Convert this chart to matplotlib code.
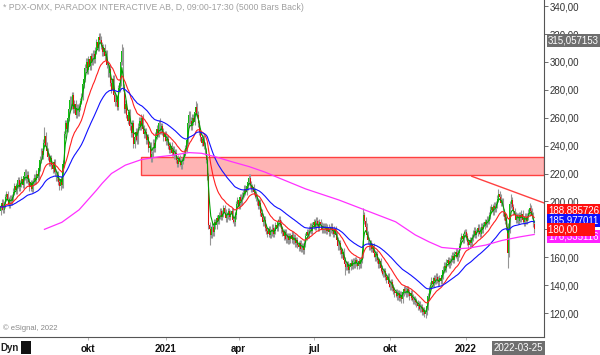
import numpy as np
import pandas as pd
import matplotlib
matplotlib.use("Agg")
import matplotlib.pyplot as plt
from matplotlib.patches import Rectangle
from matplotlib.transforms import blended_transform_factory

plt.rcParams["font.family"] = ["Liberation Sans", "DejaVu Sans"]

# ---------------- data ----------------
closes = [
    196, 199, 194, 198, 203, 205, 201, 198, 202, 200,
    203, 207, 211, 208, 212, 215, 210, 213, 216, 212,
    218, 221, 216, 219, 214, 210, 213, 209, 214, 217,
    215, 220, 218, 224, 230, 236, 233, 242, 247, 240,
    236, 232, 228, 231, 226, 223, 228, 221, 217, 219,
    214, 211, 216, 212, 227, 248, 256, 252, 260, 266,
    273, 269, 276, 266, 270, 262, 267, 264, 268, 272,
    275, 284, 288, 296, 300, 294, 302, 297, 304, 300,
    306, 302, 308, 314, 310, 318, 316, 312, 307, 310,
    304, 306, 298, 292, 295, 285, 280, 288, 276, 271,
    274, 268, 281, 285, 300, 308, 282, 266, 270, 262,
    258, 264, 254, 249, 256, 241, 246, 250, 244, 254,
    258, 254, 260, 252, 248, 250, 244, 246, 238, 240,
    231, 234, 242, 238, 247, 252, 249, 256, 251, 254,
    250, 246, 248, 243, 245, 240, 237, 240, 235, 237,
    233, 235, 230, 227, 231, 228, 226, 229, 232, 235,
    238, 244, 256, 262, 258, 254, 260, 257, 264, 268,
    262, 256, 250, 246, 242, 245, 240, 236, 230, 218,
    183, 180, 176, 182, 178, 185, 183, 188, 186, 190,
    193, 189, 191, 195, 192, 188, 190, 193, 189, 191,
    193, 187, 185, 190, 198, 201, 197, 203, 200, 204,
    206, 209, 207, 211, 214, 217, 212, 209, 210, 207,
    205, 203, 200, 197, 199, 192, 189, 185, 187, 181,
    179, 177, 180, 176, 178, 181, 177, 179, 183, 181,
    185, 187, 184, 180, 178, 175, 178, 173, 175, 172,
    175, 173, 176, 172, 174, 170, 172, 169, 167, 170,
    166, 168, 165, 170, 175, 178, 176, 180, 182, 179,
    183, 185, 182, 186, 184, 181, 185, 183, 180, 182,
    180, 182, 179, 181, 178, 180, 182, 179, 177, 180,
    176, 172, 168, 170, 165, 162, 164, 158, 155, 153,
    155, 151, 153, 156, 154, 157, 155, 158, 156, 154,
    157, 155, 158, 162, 190, 186, 182, 176, 172, 168,
    170, 166, 168, 163, 160, 162, 158, 155, 157, 152,
    150, 148, 150, 146, 144, 146, 141, 139, 142, 138,
    136, 134, 135, 132, 134, 131, 133, 130, 135, 137,
    136, 134, 137, 135, 132, 134, 131, 129, 130, 128,
    127, 125, 126, 123, 124, 121, 122, 119, 121, 125,
    132, 137, 140, 143, 141, 145, 143, 146, 144, 142,
    145, 143, 147, 151, 154, 152, 156, 158, 155, 157,
    159, 161, 158, 162, 164, 160, 163, 168, 172, 175,
    173, 177, 178, 175, 171, 169, 172, 170, 174, 177,
    179, 176, 178, 181, 179, 177, 182, 180, 183, 185,
    184, 187, 186, 190, 194, 196, 193, 197, 195, 198,
    202, 205, 203, 199, 200, 192, 189, 186, 182, 163,
    180, 198, 201, 196, 193, 190, 187, 189, 186, 190,
    188, 191, 187, 185, 189, 186, 189, 192, 195, 193,
    190, 184, 180,
]
first_open = 193
last_date = "2022-03-25"
typical_wick = 2.5
high_overrides = {"2020-08-10": 253, "2020-10-14": 321, "2020-11-11": 313,
                  "2020-12-28": 260, "2021-02-09": 272, "2021-04-14": 220,
                  "2021-08-31": 195, "2022-02-10": 209, "2022-02-25": 205,
                  "2022-03-21": 199}
low_overrides = {"2021-02-25": 169, "2021-06-18": 162, "2021-08-09": 147,
                 "2021-11-12": 117, "2022-02-22": 152}

ema_fast_span = 4
ema_mid_span = 20
ema_slow_span = 50

ma_long_dates = ["2020-08-10", "2020-08-31", "2020-09-21", "2020-10-12", "2020-10-19",
                 "2020-10-29", "2020-11-16", "2020-12-04", "2020-12-25", "2021-01-11",
                 "2021-02-01", "2021-02-16", "2021-03-04", "2021-03-24", "2021-04-14",
                 "2021-05-04", "2021-05-18", "2021-06-22", "2021-08-02", "2021-09-01",
                 "2021-10-08", "2021-11-02", "2021-11-18", "2021-12-03", "2021-12-22",
                 "2022-01-06", "2022-01-26", "2022-02-15", "2022-03-08", "2022-03-25"]
ma_long_values = [180, 185, 194, 208, 213,
                  220, 226, 230, 232, 233,
                  235, 234.5, 232, 228.5, 225,
                  221, 217.5, 209, 201, 194,
                  185.4, 176, 171, 167, 166,
                  166.6, 168.7, 172, 174.5, 176.3]

zone_start = "2020-12-04"
zone_low, zone_high = 218.9, 231.8
trend_dates = ["2022-01-10", "2022-03-25"]
trend_values = [218.0, 201.5]

x_tick_dates = ["2020-10-01", "2021-01-04", "2021-04-01", "2021-07-01", "2021-10-01", "2022-01-03"]
x_tick_labels = ["okt", "2021", "apr", "jul", "okt", "2022"]
y_ticks = list(range(120, 341, 20))

title = "* PDX-OMX, PARADOX INTERACTIVE AB, D, 09:00-17:30 (5000 Bars Back)"
high_marker_value = 315.057153
last_values = {"fast": 188.885726, "slow": 185.977011, "close": 180.00, "long": 176.335116}

# ---------------- build ----------------
c = np.array(closes, dtype=float)
n = len(c)
dates = pd.bdate_range(end=last_date, periods=n)


def idx(d):
    return int(dates.get_indexer([pd.Timestamp(d)], method="nearest")[0])


o = np.r_[first_open, c[:-1]]
hi = np.maximum(o, c) + typical_wick
lo = np.minimum(o, c) - typical_wick
for d, v in high_overrides.items():
    hi[idx(d)] = v
for d, v in low_overrides.items():
    lo[idx(d)] = v

s = pd.Series(c)
ema_fast = s.ewm(span=ema_fast_span, adjust=False).mean()
ema_mid = s.ewm(span=ema_mid_span, adjust=False).mean()
ema_slow = s.ewm(span=ema_slow_span, adjust=False).mean()

fig = plt.figure(figsize=(6.0, 3.55), dpi=100)
ax = fig.add_axes([0, 18 / 355, 544 / 600, 337 / 355])

x = np.arange(n)
ax.vlines(x, lo, hi, color="#959595", lw=0.8, zorder=2)
up = c >= o
ax.bar(x[up], (c - o)[up], bottom=o[up], width=0.8, color="#10c010",
       edgecolor="none", zorder=3)
ax.bar(x[~up], (o - c)[~up], bottom=c[~up], width=0.8, color="#e01010",
       edgecolor="none", zorder=3)

ax.plot(x, ema_fast, color="#00a000", lw=0.8, zorder=4)
ax.plot(x, ema_mid, color="#ff2020", lw=0.8, zorder=4)
ax.plot(x, ema_slow, color="#1010ff", lw=0.8, zorder=4)
ax.plot([idx(d) for d in ma_long_dates], ma_long_values, color="#ff30ff", lw=0.9, zorder=4)

xmin, xmax = -0.5, 544 / 1.155 - 0.5
zs = idx(zone_start)
ax.add_patch(Rectangle((zs, zone_low), xmax - zs, zone_high - zone_low,
                       facecolor="#ffb4b4", edgecolor="#ff4040", lw=1.0, zorder=1))

t0, t1 = idx(trend_dates[0]), idx(trend_dates[1])
slope = (trend_values[1] - trend_values[0]) / (t1 - t0)
ax.plot([t0, xmax], [trend_values[0], trend_values[0] + slope * (xmax - t0)],
        color="#ff4040", lw=1.0, zorder=5)

ax.set_xlim(xmin, xmax)
ax.set_ylim(102.8, 344.4)

for sp in ["left", "top"]:
    ax.spines[sp].set_visible(False)
for sp in ["right", "bottom"]:
    ax.spines[sp].set_color("#555555")
    ax.spines[sp].set_linewidth(0.8)

ax.yaxis.tick_right()
ax.set_yticks(y_ticks)
ax.set_yticklabels([f"{v:.2f}".replace(".", ",") for v in y_ticks])
ax.tick_params(axis="y", direction="out", length=3, width=0.6, color="#555555",
               labelsize=7, labelcolor="#333333", pad=1)
ax.set_xticks([idx(d) for d in x_tick_dates])
ax.set_xticklabels(x_tick_labels, fontweight="bold")
ax.tick_params(axis="x", direction="out", length=2, width=0.6, color="#aaaaaa",
               labelsize=7, labelcolor="#111111", pad=3)

# texts
fig.text(3 / 600, 1 - 8 / 355, title, fontsize=6.3, color="#a0a0a0", va="center", ha="left")
ax.text(3 / 544, 1 - 328 / 337, "\u00a9 eSignal, 2022", transform=ax.transAxes,
        fontsize=5.5, color="#888888", va="center", ha="left")
fig.text(0 / 600, 1 - 348 / 355, "Dyn", fontsize=7, color="#222222", va="center",
         ha="left", fontweight="bold")
fig.add_artist(Rectangle((21 / 600, 1 - 354 / 355), 10 / 600, 13 / 355,
                         transform=fig.transFigure, facecolor="#111111", edgecolor="none"))

fig.text(543 / 600, 1 - 348 / 355, last_date, fontsize=7, color="white", va="center",
         ha="right", bbox=dict(boxstyle="square,pad=0.2", fc="#6e6e6e", ec="none"))

tr = blended_transform_factory(ax.transAxes, ax.transData)


def value_label(y, text, fc):
    ax.text(1.0 + 4 / 544, y, text, transform=tr, fontsize=7, color="white",
            va="center", ha="left", clip_on=False, zorder=10,
            bbox=dict(boxstyle="square,pad=0.15", fc=fc, ec="none"))


def fmt(v, nd):
    return f"{v:.{nd}f}".replace(".", ",")


# last-value labels, stacked like the reference (partly covering each other)
value_label(high_marker_value, fmt(high_marker_value, 6), "#6e6e6e")
value_label(193.6, fmt(last_values["fast"], 6), "#ff1010")
value_label(174.6, fmt(last_values["long"], 6), "#ff20ff")
value_label(186.3, fmt(last_values["slow"], 6), "#1010ff")
value_label(180.0, fmt(last_values["close"], 2) + "      ", "#ff1010")

fig.savefig("out.png", dpi=100)
